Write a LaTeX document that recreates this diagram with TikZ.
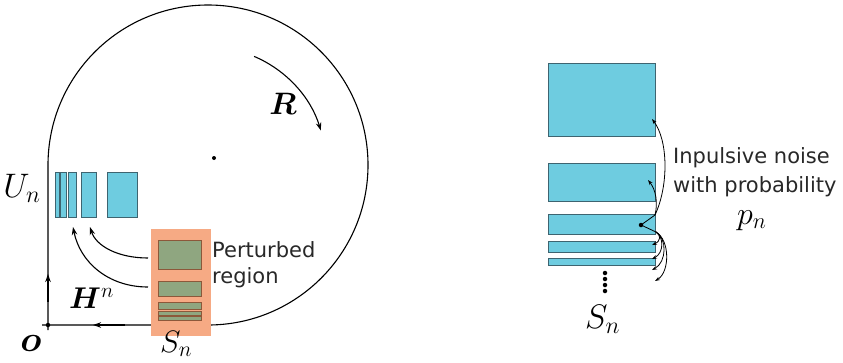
\documentclass[tikz,border=0pt]{standalone}
\usepackage{fix-cm}
\usepackage{amsmath,bm}
\usepackage{fontspec}
\newfontfamily\labelfont{DejaVu Sans}
\usetikzlibrary{arrows.meta}
\definecolor{cyanfill}{RGB}{110,204,224}
\definecolor{cyanedge}{RGB}{62,100,112}
\definecolor{greenfill}{RGB}{143,166,128}
\definecolor{greenedge}{RGB}{140,88,58}
\definecolor{orangefill}{RGB}{246,170,132}
\definecolor{textgray}{RGB}{40,40,40}
\begin{document}
\begin{tikzpicture}[x=1bp,y=1bp,
  cyanbox/.style={draw=cyanedge,fill=cyanfill,line width=0.9bp,inner sep=0pt,outer sep=0pt,anchor=north west},
  greenbox/.style={draw=greenedge,fill=greenfill,line width=0.9bp,inner sep=0pt,outer sep=0pt,anchor=north west},
  orangebox/.style={fill=orangefill,inner sep=0pt,outer sep=0pt,anchor=north west},
  curve/.style={line width=1.1bp,-{Stealth[length=8bp,width=5.5bp]}},
  thin curve/.style={line width=0.8bp,-{Stealth[length=5bp,width=3.5bp]}},
  frame/.style={line width=1.1bp},
  sans/.style={font=\labelfont\fontsize{21bp}{26bp}\selectfont,text=textgray,inner sep=0pt,anchor=base west},
  dotnode/.style={circle,fill=black,inner sep=0pt,minimum size=#1}
]
\useasboundingbox (0,0) rectangle (843,-362);

% ---------- left part: rotating disc ----------
\coordinate (ctr) at (208,-165);
\coordinate (o) at (48,-325);
\coordinate (leftT) at (48,-165);
\coordinate (botT) at (208,-325);
\coordinate (xend) at (42,-325);
\coordinate (yend) at (48,-330);
\draw[frame] (yend) -- (leftT) arc[start angle=180,end angle=-90,radius=160] -- (xend);
\node[dotnode=4.5bp] (odot) at (o) {};
\node[dotnode=4bp] (cdot) at (214,-158) {};
\coordinate (upA) at (48,-302);
\coordinate (upB) at (48,-274);
\draw[curve] (upA) -- (upB);
\coordinate (leftA) at (125,-325);
\coordinate (leftB) at (93,-325);
\draw[curve] (leftA) -- (leftB);

% rotation arrow R
\coordinate (rA) at ([shift={(67:118)}]ctr);
\draw[curve] (rA) arc[start angle=67,end angle=17,radius=118];
\node[inner sep=0pt,font=\fontsize{31bp}{31bp}\selectfont] (Rlab) at (283,-104) {$\bm{R}$};

% U_n boxes
\node[cyanbox,minimum width=30bp,minimum height=45bp] (u1) at (107,-172) {};
\node[cyanbox,minimum width=15bp,minimum height=45bp] (u2) at (81,-172) {};
\node[cyanbox,minimum width=8bp,minimum height=45bp] (u3) at (68,-172) {};
\node[cyanbox,minimum width=6bp,minimum height=45bp] (u4) at (60,-172) {};
\node[cyanbox,minimum width=4bp,minimum height=45bp] (u5) at (55,-172) {};
\node[inner sep=0pt,font=\fontsize{34bp}{34bp}\selectfont] (Un) at (22,-188) {$U_n$};

% perturbed region
\node[orangebox,minimum width=60bp,minimum height=107bp] (pert) at (151,-229) {};
\node[greenbox,minimum width=43bp,minimum height=29bp] (g1) at (158,-240) {};
\node[greenbox,minimum width=43bp,minimum height=15bp] (g2) at (158,-281) {};
\node[greenbox,minimum width=43bp,minimum height=7bp] (g3) at (158,-302) {};
\node[greenbox,minimum width=43bp,minimum height=4.5bp] (g4) at (158,-311) {};
\node[greenbox,minimum width=43bp,minimum height=4bp] (g5) at (158,-316) {};
\node[sans] (pt1) at (212,-257) {Perturbed};
\node[sans] (pt2) at (212,-283) {region};

% H^n arrows
\coordinate (h1s) at (148,-258);
\coordinate (h1t) at (90,-227);
\coordinate (h2s) at (148,-287);
\coordinate (h2t) at (73,-227);
\draw[curve] (h1s) .. controls (118,-258) and (96,-246) .. (h1t);
\draw[curve] (h2s) .. controls (108,-287) and (80,-262) .. (h2t);
\node[inner sep=0pt,anchor=base west,font=\fontsize{30bp}{30bp}\selectfont] (Hn) at (69,-308) {$\bm{H}^{n}$};

\node[inner sep=0pt,font=\fontsize{36bp}{36bp}\selectfont] (olab) at (31,-343) {$\bm{o}$};
\node[inner sep=0pt,anchor=base west,font=\fontsize{31bp}{31bp}\selectfont] (Snl) at (160,-352) {$S_n$};

% ---------- right part: stack ----------
\node[cyanbox,minimum width=107bp,minimum height=73bp] (s1) at (548,-63) {};
\node[cyanbox,minimum width=107bp,minimum height=38bp] (s2) at (548,-163) {};
\node[cyanbox,minimum width=107bp,minimum height=20bp] (s3) at (548,-214) {};
\node[cyanbox,minimum width=107bp,minimum height=11bp] (s4) at (548,-241) {};
\node[cyanbox,minimum width=107bp,minimum height=7bp] (s5) at (548,-258) {};
\node[dotnode=4.5bp] (d1) at (605,-273) {};
\node[dotnode=4.5bp] (d2) at (605,-279) {};
\node[dotnode=4.5bp] (d3) at (605,-285) {};
\node[dotnode=4.5bp] (d4) at (605,-291) {};
\node[inner sep=0pt,anchor=base west,font=\fontsize{34bp}{34bp}\selectfont] (Snr) at (585,-328) {$S_n$};

\node[dotnode=4.5bp] (pd) at (641,-225) {};
\coordinate (j1) at (655,-215);
\coordinate (j2) at (656,-232);
\draw[line width=0.8bp] (pd.center) -- (j1);
\draw[line width=0.8bp] (pd.center) -- (j2);
\coordinate (t1) at (652,-119);
\coordinate (t2) at (648,-180);
\draw[thin curve] (j1) .. controls (669,-185) and (668,-140) .. (t1);
\draw[thin curve] (j1) .. controls (658,-203) and (656,-190) .. (t2);
\coordinate (t3) at (652,-245);
\coordinate (t4) at (652,-259);
\coordinate (t5) at (652,-270);
\coordinate (t6) at (655,-281);
\draw[thin curve] (j2) .. controls (661,-235) and (661,-241) .. (t3);
\draw[thin curve] (j2) .. controls (664,-237) and (664,-253) .. (t4);
\draw[thin curve] (j2) .. controls (667,-238) and (667,-262) .. (t5);
\draw[thin curve] (j2) .. controls (670,-240) and (670,-272) .. (t6);

\node[sans] (in1) at (673,-163) {Inpulsive noise};
\node[sans] (in2) at (673,-192) {with probability};
\node[inner sep=0pt,anchor=base west,font=\fontsize{32bp}{32bp}\selectfont] (pn) at (737,-224) {$p_n$};
\end{tikzpicture}
\end{document}
